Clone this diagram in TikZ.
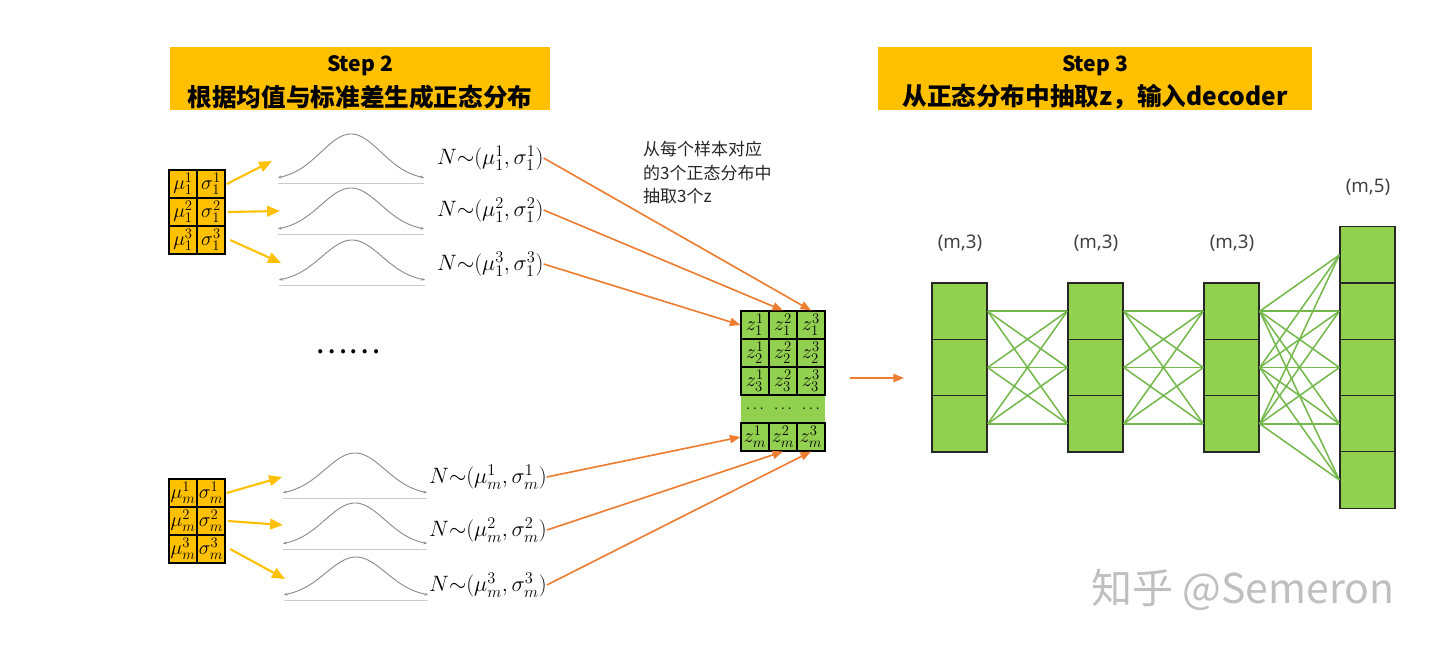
\RequirePackage{fix-cm}
\documentclass[tikz,border=0pt]{standalone}
\usepackage{fontspec}
\newfontfamily\cjk{Noto Sans CJK SC}
\newfontfamily\nsans{Noto Sans}
\DeclareMathSizes{19}{19}{14}{10}
\DeclareMathSizes{17}{17}{12.5}{9}
\usetikzlibrary{arrows.meta}
\definecolor{gold}{HTML}{FFC000}
\definecolor{zgreen}{HTML}{92D050}
\definecolor{lgreen}{HTML}{74B84C}
\definecolor{orng}{HTML}{ED7D31}
\definecolor{txtdark}{HTML}{262626}
\newcommand\gausscurve[4]{%
  \draw[curveline] plot[domain=-#4:#4,samples=80] ({#1+\x},{#2-#3*exp(-(\x)*(\x)/1800)});
  \draw[axisline] (#1-#4,#2+3) -- (#1+#4,#2+3);}
\begin{document}
\begin{tikzpicture}[x=0.03cm,y=-0.03cm,
  titlebox/.style={fill=gold, minimum width=11.4cm, minimum height=1.89cm, inner sep=0pt},
  titletxt/.style={inner sep=0pt, font=\cjk\bfseries\fontsize{21}{21}\selectfont, text=black},
  cellY/.style={draw=black, fill=gold, minimum width=0.84cm, minimum height=0.84cm, inner sep=0pt, line width=0.9pt,
     font=\fontsize{17}{17}\selectfont},
  cellZ/.style={draw=black, fill=zgreen, minimum width=0.84cm, minimum height=0.84cm, inner sep=0pt, line width=0.9pt,
     font=\fontsize{17}{17}\selectfont},
  ncell/.style={draw=black!85, fill=zgreen, minimum width=1.65cm, minimum height=1.69cm, inner sep=0pt, line width=1.1pt},
  conn/.style={draw=lgreen, line width=1.3pt},
  yarrow/.style={draw=gold, line width=1.8pt, -{Triangle[length=11pt,width=9pt]}},
  oarrow/.style={draw=orng, line width=1.4pt, -{Triangle[length=9pt,width=7pt]}},
  curveline/.style={draw=black!45, line width=0.8pt, {Stealth[length=3pt,width=2.5pt]}-{Stealth[length=3pt,width=2.5pt]}},
  axisline/.style={draw=black!20, line width=0.8pt},
  nlabel/.style={anchor=west, inner sep=0pt, font=\fontsize{19}{19}\selectfont},
  dimlabel/.style={font=\nsans\fontsize{16}{16}\selectfont, text=black!75},
]
\useasboundingbox (0,0) rectangle (1440,646);

% titles
\node[titlebox] (t2) at (360,78.5) {};
\node[titletxt, font=\cjk\bfseries\fontsize{18}{18}\selectfont] (t2a) at (360,66) {Step 2};
\node[titletxt] (t2b) at (360,97) {根据均值与标准差生成正态分布};
\node[titlebox, minimum width=13.02cm] (t3) at (1095,78.5) {};
\node[titletxt, font=\cjk\bfseries\fontsize{18}{18}\selectfont] (t3a) at (1095,66) {Step 3};
\node[titletxt] (t3b) at (1095,97) {从正态分布中抽取z，输入decoder};

% top-left matrix
\foreach \r/\y in {1/184,2/212,3/240}{
  \node[cellY] (mu\r) at (183,\y) {$\mu_1^{\r}$};
  \node[cellY] (sg\r) at (211,\y) {$\sigma_1^{\r}$};
}
% bottom-left matrix
\foreach \r/\y in {1/493,2/521,3/549}{
  \node[cellY] (mum\r) at (183,\y) {$\mu_m^{\r}$};
  \node[cellY] (sgm\r) at (211,\y) {$\sigma_m^{\r}$};
}

% gaussian curves
\gausscurve{351}{180}{46}{73}
\gausscurve{351}{231}{43}{73}
\gausscurve{352}{282}{42}{73}
\gausscurve{355}{495}{42}{72}
\gausscurve{355}{546}{43}{72}
\gausscurve{356}{597}{40}{72}

% yellow arrow ends
\coordinate (ya1) at (272,161);
\coordinate (ya2) at (280,211);
\coordinate (ya3) at (281,263);
\coordinate (yb1) at (282,477);
\coordinate (yb2) at (283,525);
\coordinate (yb3) at (285,579);
\draw[yarrow] ([xshift=1pt]sg1.east) -- (ya1);
\draw[yarrow] ([xshift=2pt]sg2.east) -- (ya2);
\draw[yarrow] ([xshift=4pt]sg3.east) -- (ya3);
\draw[yarrow] ([xshift=1pt]sgm1.east) -- (yb1);
\draw[yarrow] ([xshift=2pt]sgm2.east) -- (yb2);
\draw[yarrow] ([xshift=4pt]sgm3.east) -- (yb3);

% distribution labels
\node[nlabel] (n1) at (437,158) {$N{\sim}(\mu_1^1,\sigma_1^1)$};
\node[nlabel] (n2) at (437,210) {$N{\sim}(\mu_1^2,\sigma_1^2)$};
\node[nlabel] (n3) at (437,264) {$N{\sim}(\mu_1^3,\sigma_1^3)$};
\node[nlabel] (m1) at (429,477) {$N{\sim}(\mu_m^1,\sigma_m^1)$};
\node[nlabel] (m2) at (429,530) {$N{\sim}(\mu_m^2,\sigma_m^2)$};
\node[nlabel] (m3) at (429,585) {$N{\sim}(\mu_m^3,\sigma_m^3)$};

% ellipsis
\node[font=\cjk\fontsize{26}{26}\selectfont] (ell) at (348,352) {……};

% annotation
\node[anchor=north west, align=left, inner sep=0pt, text=txtdark, font=\cjk\fontsize{14.5}{20}\selectfont] (ann) at (643,141)
  {从每个样本对应\\的3个正态分布中\\抽取3个z};

% z matrix
\fill[zgreen] (741,395) rectangle (825,423);
\foreach \c/\x in {1/755,2/783,3/811}{
  \foreach \r/\y in {1/325,2/353,3/381}{
    \node[cellZ] (z\r\c) at (\x,\y) {$z_{\r}^{\c}$};
  }
  \node[cellZ] (zm\c) at (\x,437) {$z_{m}^{\c}$};
  \node[inner sep=0pt, font=\fontsize{13}{13}\selectfont] (zd\c) at (\x,409) {$\cdots$};
}

% orange arrows
\draw[oarrow] (n1.east) -- (z13.north);
\draw[oarrow] (n2.east) -- (z12.north);
\draw[oarrow] (n3.east) -- (z11.west);
\draw[oarrow] (m1.east) -- (zm1.west);
\draw[oarrow] (m2.east) -- (zm2.south);
\draw[oarrow] (m3.east) -- (zm3.south);

\coordinate (oa) at (850,378);
\coordinate (ob) at (904,378);
\draw[oarrow] (oa) -- (ob);

% network
\foreach \i/\y in {1/311.2,2/367.5,3/423.8}{
  \node[ncell] (a\i) at (959.5,\y) {};
  \node[ncell] (b\i) at (1095.5,\y) {};
  \node[ncell] (c\i) at (1231.5,\y) {};
}
\foreach \i/\y in {1/255,2/311.2,3/367.5,4/423.8,5/480}{
  \node[ncell] (d\i) at (1367.5,\y) {};
}
\foreach \i in {1,2,3}{
  \foreach \j in {1,2,3}{
    \draw[conn] (a\i.east) -- (b\j.west);
    \draw[conn] (b\i.east) -- (c\j.west);
  }
  \foreach \j in {1,...,5}{
    \draw[conn] (c\i.east) -- (d\j.west);
  }
}

% shape labels
\node[dimlabel] (s1) at (960,243) {(m,3)};
\node[dimlabel] (s2) at (1096,243) {(m,3)};
\node[dimlabel] (s3) at (1232,243) {(m,3)};
\node[dimlabel] (s4) at (1368,187) {(m,5)};

% watermark
\node[font=\cjk\fontsize{35}{35}\selectfont, text=black!25] (wm) at (1243,590) {知乎 @Semeron};
\end{tikzpicture}
\end{document}
